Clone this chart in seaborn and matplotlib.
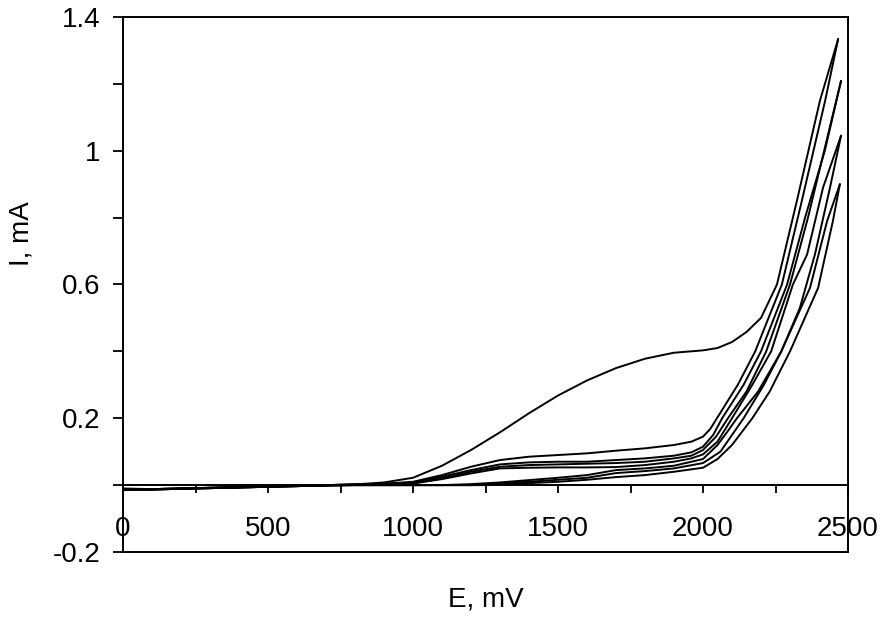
import numpy as np
import pandas as pd
import matplotlib
matplotlib.use("Agg")
import matplotlib.pyplot as plt
import seaborn as sns
from matplotlib.ticker import FixedLocator

# ---- data (E in mV, I in mA), one array pair per sweep ----
base_E = [0, 100, 200, 300, 400, 500, 600, 700, 800, 900]

c1f_E = base_E + [1000, 1100, 1200, 1300, 1400, 1500, 1600, 1700, 1800, 1900, 2000, 2050, 2100, 2150, 2200, 2255, 2324, 2403, 2466]
c1f_I = [-0.010, -0.012, -0.010, -0.008, -0.006, -0.004, -0.002, 0.000, 0.002, 0.008,
         0.022, 0.058, 0.105, 0.158, 0.215, 0.268, 0.313, 0.350, 0.378, 0.396, 0.403, 0.410, 0.428, 0.458, 0.500, 0.600, 0.851, 1.149, 1.334]

c1r_E = [2466, 2421, 2341, 2272, 2180, 2120, 2048, 2025, 2000, 1960, 1900, 1800, 1700, 1600, 1500, 1400, 1300, 1200, 1100, 1000, 900, 800, 700, 600, 500, 400, 300, 200, 100, 0]
c1r_I = [1.334, 1.149, 0.851, 0.600, 0.400, 0.300, 0.200, 0.168, 0.145, 0.130, 0.120, 0.110, 0.103, 0.095, 0.090, 0.085, 0.075, 0.055, 0.030, 0.010, 0.004, 0.002, 0.000, -0.002, -0.004, -0.006, -0.008, -0.010, -0.012, -0.012]

c2f_E = base_E + [1000, 1100, 1200, 1300, 1400, 1500, 1600, 1700, 1800, 1900, 1960, 2000, 2035, 2066, 2140, 2200, 2290, 2352, 2420, 2476]
c2f_I = [-0.012, -0.012, -0.010, -0.008, -0.006, -0.004, -0.002, 0.000, 0.002, 0.004,
         0.008, 0.025, 0.045, 0.062, 0.068, 0.070, 0.070, 0.075, 0.080, 0.088, 0.098, 0.115, 0.150, 0.200, 0.300, 0.400, 0.600, 0.800, 1.000, 1.209]

c2r_E = [2476, 2440, 2362, 2300, 2218, 2150, 2086, 2045, 2000, 1960, 1900, 1800, 1700, 1600, 1500, 1400, 1300, 1200, 1100, 1000, 900, 800, 700, 600, 500, 400, 300, 200, 100, 0]
c2r_I = [1.209, 1.080, 0.800, 0.600, 0.400, 0.280, 0.200, 0.145, 0.105, 0.088, 0.080, 0.070, 0.066, 0.064, 0.062, 0.060, 0.055, 0.040, 0.020, 0.005, 0.003, 0.001, 0.000, -0.002, -0.004, -0.006, -0.008, -0.010, -0.012, -0.014]

c3f_E = base_E + [1000, 1100, 1200, 1300, 1400, 1500, 1600, 1700, 1800, 1900, 1960, 2000, 2050, 2100, 2170, 2235, 2310, 2359, 2414, 2476]
c3f_I = [-0.014, -0.013, -0.011, -0.009, -0.007, -0.005, -0.003, -0.001, 0.001, 0.003,
         0.005, 0.018, 0.035, 0.050, 0.052, 0.053, 0.053, 0.054, 0.060, 0.070, 0.080, 0.092, 0.130, 0.200, 0.300, 0.400, 0.600, 0.690, 0.890, 1.045]

c3r_E = [2476, 2438, 2386, 2334, 2270, 2190, 2117, 2080, 2050, 2000, 1900, 1800, 1700, 1600, 1500, 1400, 1300, 1200, 1100, 1000, 900, 800, 700, 600, 500, 400, 300, 200, 100, 0]
c3r_I = [1.045, 0.890, 0.690, 0.530, 0.400, 0.280, 0.200, 0.155, 0.120, 0.078, 0.058, 0.050, 0.045, 0.030, 0.022, 0.015, 0.008, 0.003, 0.000, 0.000, 0.000, 0.000, -0.001, -0.003, -0.005, -0.007, -0.009, -0.011, -0.013, -0.014]

c4f_E = base_E + [1000, 1100, 1200, 1300, 1400, 1500, 1600, 1700, 1800, 1900, 2000, 2060, 2140, 2210, 2270, 2369, 2428, 2472]
c4f_I = [-0.014, -0.013, -0.011, -0.009, -0.007, -0.005, -0.003, -0.001, 0.000, 0.000,
         0.000, 0.000, 0.000, 0.005, 0.010, 0.016, 0.022, 0.036, 0.042, 0.050, 0.066, 0.100, 0.200, 0.300, 0.400, 0.590, 0.790, 0.900]

c4r_E = [2472, 2448, 2397, 2300, 2230, 2170, 2100, 2050, 2000, 1900, 1800, 1700, 1600, 1500, 1400, 1250, 1100, 1000, 900, 800, 700, 600, 500, 400, 300, 200, 100, 0]
c4r_I = [0.900, 0.790, 0.590, 0.400, 0.280, 0.200, 0.120, 0.078, 0.052, 0.040, 0.030, 0.024, 0.016, 0.010, 0.006, 0.000, 0.000, 0.000, 0.000, 0.000, -0.001, -0.003, -0.005, -0.007, -0.009, -0.011, -0.013, -0.015]

sweeps = {
    "c1f": (c1f_E, c1f_I), "c1r": (c1r_E, c1r_I),
    "c2f": (c2f_E, c2f_I), "c2r": (c2r_E, c2r_I),
    "c3f": (c3f_E, c3f_I), "c3r": (c3r_E, c3r_I),
    "c4f": (c4f_E, c4f_I), "c4r": (c4r_E, c4r_I),
}

x_ticks = [0, 500, 1000, 1500, 2000, 2500]
x_minor = [250, 750, 1250, 1750, 2250]
y_ticks = [-0.2, 0.2, 0.6, 1.0, 1.4]
y_tick_labels = ["-0.2", "0.2", "0.6", "1", "1.4"]
y_minor = [0.0, 0.4, 0.8, 1.2]

rows = []
for name, (E, I) in sweeps.items():
    for k, (e, i) in enumerate(zip(E, I)):
        rows.append({"sweep": name, "order": k, "E": e, "I": i})
df = pd.DataFrame(rows)

sns.set_theme(style="white")
plt.rcParams["font.family"] = ["Liberation Sans", "DejaVu Sans"]
plt.rcParams["text.color"] = "black"
plt.rcParams["axes.labelcolor"] = "black"
plt.rcParams["xtick.color"] = "black"
plt.rcParams["ytick.color"] = "black"

fig = plt.figure(figsize=(8.85, 6.23), dpi=100)
ax = fig.add_axes([123 / 885, 1 - 552 / 623, (848 - 123) / 885, (552 - 17) / 623])

sns.lineplot(data=df, x="E", y="I", units="sweep", estimator=None, sort=False,
             color="black", linewidth=1.4, ax=ax)

ax.set_xlim(0, 2500)
ax.set_ylim(-0.2, 1.4)

for s in ax.spines.values():
    s.set_color("black")
    s.set_linewidth(1.4)
ax.spines["bottom"].set_position(("data", 0))
ax.plot([0, 1], [0, 0], transform=ax.transAxes, color="black", lw=1.4, clip_on=False)

ax.xaxis.set_major_locator(FixedLocator(x_ticks))
ax.xaxis.set_minor_locator(FixedLocator(x_minor))
ax.set_xticklabels([str(v) for v in x_ticks])
ax.yaxis.set_major_locator(FixedLocator(y_ticks))
ax.yaxis.set_minor_locator(FixedLocator(y_minor))
ax.set_yticklabels(y_tick_labels)

ax.tick_params(axis="x", which="both", direction="out", length=6, width=1.3,
               color="black", labelcolor="black", labelsize=20, pad=16, bottom=True)
ax.tick_params(axis="y", which="both", direction="out", length=7, width=1.3,
               color="black", labelcolor="black", labelsize=20, pad=9, left=True)

ax.set_xlabel("E, mV", fontsize=20, labelpad=0, color="black")
ax.set_ylabel("I, mA", fontsize=20, color="black")
ax.xaxis.set_label_coords(0.5, -0.065)
ax.yaxis.set_label_coords(-0.122, 0.595)

fig.savefig("out.png", dpi=100)
